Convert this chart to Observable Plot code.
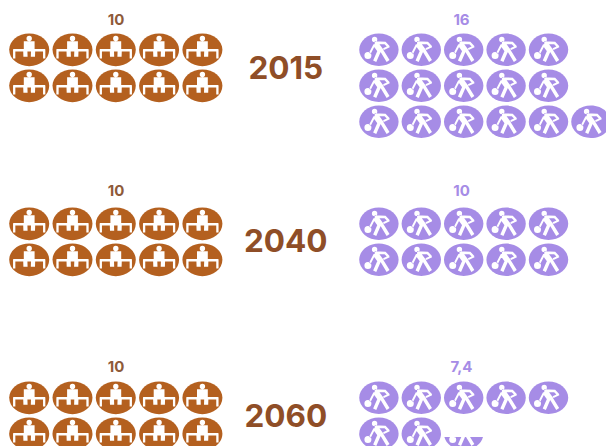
<!DOCTYPE html>
<html>
<head>
<meta charset="utf-8">
<script src="https://cdn.jsdelivr.net/npm/d3@7"></script>
<script src="https://cdn.jsdelivr.net/npm/@observablehq/plot@0.6"></script>
<style>html,body{margin:0;padding:0;background:#fff;overflow:hidden}svg{display:block}</style>
</head>
<body>
<div id="chart"></div>
<script>
const years = ["2015", "2040", "2060"];
const retirees = [10, 10, 10];
const workers = [16, 10, 7.4];
const workerLabels = ["16", "10", "7,4"];

const W = 606, H = 446;
const groupPitch = 174, rowPitch = 36, firstRow = 49.3;
const sides = {
  retirees: {x0: 28.7, pitch: 43.3, labelX: 115.5, rx: 20, ry: 16.4},
  workers: {x0: 378.4, pitch: 42.4, labelX: 461, rx: 19.7, ry: 16.2}
};
const labelRise = [30, 33, 31];
const yearDrop = [19, 18, 19];
const brown = "#b4601f", purple = "#a68ce6";

function icons(values, side) {
  const out = [];
  values.forEach((v, g) => {
    const n = Math.ceil(v);
    for (let i = 0; i < n; i++) {
      const row = Math.min(Math.floor(i / 5), 2);
      const col = i - row * 5;
      out.push({
        x: sides[side].x0 + col * sides[side].pitch,
        y: firstRow + g * groupPitch + row * rowPitch,
        frac: Math.min(1, v - i)
      });
    }
  });
  return out;
}

function ellipse(ctx, rx, ry) {
  const k = 0.5523;
  ctx.moveTo(rx, 0);
  ctx.bezierCurveTo(rx, ry * k, rx * k, ry, 0, ry);
  ctx.bezierCurveTo(-rx * k, ry, -rx, ry * k, -rx, 0);
  ctx.bezierCurveTo(-rx, -ry * k, -rx * k, -ry, 0, -ry);
  ctx.bezierCurveTo(rx * k, -ry, rx, -ry * k, rx, 0);
  ctx.closePath();
}
const disc = s => ({draw(ctx) { ellipse(ctx, s.rx, s.ry); }});

function seg(ctx, x1, y1, x2, y2, w) {
  const dx = x2 - x1, dy = y2 - y1, l = Math.hypot(dx, dy);
  const nx = -dy / l * w / 2, ny = dx / l * w / 2;
  ctx.moveTo(x1 + nx, y1 + ny);
  ctx.lineTo(x2 + nx, y2 + ny);
  ctx.lineTo(x2 - nx, y2 - ny);
  ctx.lineTo(x1 - nx, y1 - ny);
  ctx.closePath();
}
function blob(ctx, x, y, r) {
  ctx.moveTo(x + r, y);
  ctx.arc(x, y, r, 0, 2 * Math.PI);
  ctx.closePath();
}
const sitter = {draw(ctx) {
  blob(ctx, 0, -11.3, 2.7);
  seg(ctx, 0, -8.6, 0, 0, 10.8);
  seg(ctx, -16, 0.5, 16, 0.5, 2.4);
  seg(ctx, -15, 0, -15, 8.6, 2.3);
  seg(ctx, 15, 0, 15, 8.6, 2.3);
  seg(ctx, -3.9, 1, -3.7, 7, 4.2);
  seg(ctx, 3.9, 1, 3.7, 7, 4.2);
}};
const digger = {draw(ctx) {
  blob(ctx, -4.3, -10.4, 2.7);
  seg(ctx, -3.6, -6.3, 2.4, 2, 5.8);
  seg(ctx, -4.2, -7.2, 6.5, -6.8, 2.6);
  seg(ctx, 5.8, -7.2, 10, -2.8, 2.4);
  seg(ctx, 10.4, -3.4, 4.6, -0.6, 2);
  seg(ctx, -4.6, -5, -9, 3.5, 1.9);
  blob(ctx, -11, 5.8, 3.5);
  seg(ctx, 0.4, 1, -4.2, 11.4, 3.4);
  seg(ctx, 3, 1, 9.2, 11.2, 3.4);
}};

let clipId = 0;
function iconMarks(side, values, fill, glyph) {
  const data = icons(values, side);
  const s = sides[side];
  const mk = (symbol, color) => Plot.dot(data, {
    x: "x", y: "y", symbol, fill: color, stroke: "none",
    // an icon with a fractional value only shows its lower part
    render(index, scales, vals, dims, ctx, next) {
      const g = next(index, scales, vals, dims, ctx);
      const paths = g.querySelectorAll("path");
      const ns = "http://www.w3.org/2000/svg";
      Array.from(index).forEach((d, k) => {
        const f = data[d].frac;
        if (f >= 1) return;
        const id = "part" + (clipId++);
        const cp = document.createElementNS(ns, "clipPath");
        cp.setAttribute("id", id);
        const r = document.createElementNS(ns, "rect");
        const h = 2 * s.ry * f;
        r.setAttribute("x", -s.rx - 1);
        r.setAttribute("y", s.ry - h);
        r.setAttribute("width", 2 * s.rx + 2);
        r.setAttribute("height", h + 1);
        cp.appendChild(r);
        g.appendChild(cp);
        paths[k].setAttribute("clip-path", `url(#${id})`);
      });
      return g;
    }
  });
  return [mk(disc(s), fill), mk(glyph, "#fff")];
}

const yearRows = years.map((year, g) => ({year, x: 285.3, y: firstRow + g * groupPitch + yearDrop[g]}));
const leftLabels = retirees.map((v, g) => ({t: String(v), x: sides.retirees.labelX, y: firstRow + g * groupPitch - labelRise[g]}));
const rightLabels = workerLabels.map((t, g) => ({t, x: sides.workers.labelX, y: firstRow + g * groupPitch - labelRise[g]}));

const font = "Inter, 'Noto Sans', sans-serif";
const chart = Plot.plot({
  width: W, height: H,
  margin: 0,
  x: {domain: [0, W], range: [0, W], axis: null},
  y: {domain: [0, H], range: [0, H], axis: null},
  marks: [
    ...iconMarks("retirees", retirees, brown, sitter),
    ...iconMarks("workers", workers, purple, digger),
    Plot.text(yearRows, {x: "x", y: "y", text: "year", fill: "#8f4e27", fontSize: 31.5, fontWeight: 700, fontFamily: font}),
    Plot.text(leftLabels, {x: "x", y: "y", text: "t", fill: "#8e5a3a", fontSize: 15, fontWeight: 700, fontFamily: font}),
    Plot.text(rightLabels, {x: "x", y: "y", text: "t", fill: "#a68ce6", fontSize: 15, fontWeight: 700, fontFamily: font})
  ]
});
document.getElementById("chart").appendChild(chart);
</script>
</body>
</html>
